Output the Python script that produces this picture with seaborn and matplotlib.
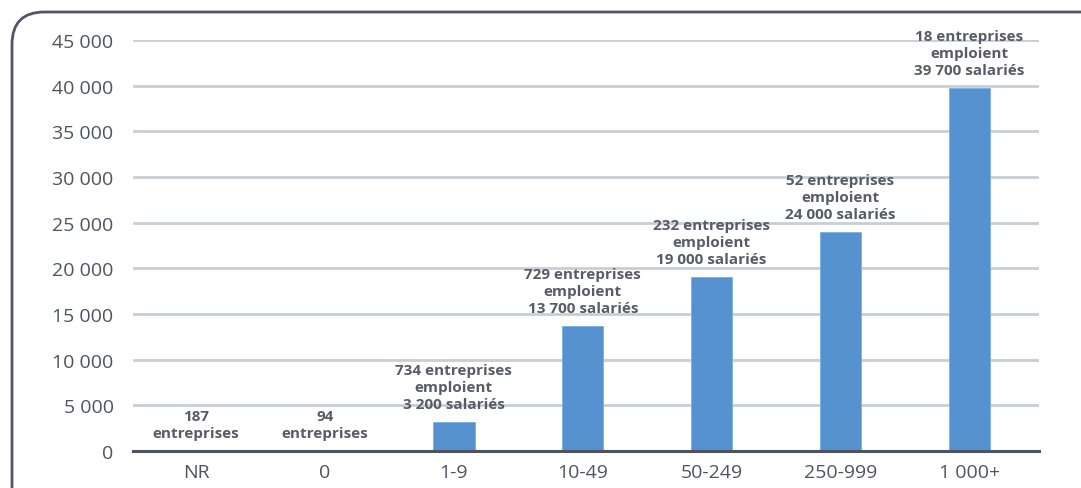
import matplotlib
matplotlib.use("Agg")
import matplotlib.pyplot as plt
from matplotlib.patches import FancyBboxPatch
from matplotlib.ticker import FuncFormatter
import seaborn as sns
import pandas as pd

# Number of employees by company size class
categories = ["NR", "0", "1-9", "10-49", "50-249", "250-999", "1 000+"]
salaries = [0, 0, 3200, 13700, 19000, 24000, 39700]
annotations = [
    "187\nentreprises",
    "94\nentreprises",
    "734 entreprises\nemploient\n3 200 salariés",
    "729 entreprises\nemploient\n13 700 salariés",
    "232 entreprises\nemploient\n19 000 salariés",
    "52 entreprises\nemploient\n24 000 salariés",
    "18 entreprises\nemploient\n39 700 salariés",
]
y_ticks = list(range(0, 45001, 5000))

sns.set_theme(style="white")
plt.rcParams["font.family"] = ["Open Sans", "DejaVu Sans"]

BAR = "#5592cf"
TEXT = "#4e5460"
LABEL = "#575c66"
GRID = "#c9ced6"
AXIS = "#4d5361"

df = pd.DataFrame({"taille": categories, "salaries": salaries})

fig = plt.figure(figsize=(10.81, 4.89), dpi=100)
fig.patch.set_facecolor("white")

# Rounded frame, open towards the right and bottom edges
frame = FancyBboxPatch((12 / 1081, (489 - 13) / 489 - 1.2), 1.2, 1.2,
                       boxstyle="round,pad=0,rounding_size=0.03",
                       transform=fig.transFigure, facecolor="none",
                       edgecolor="#4f5666", linewidth=2, zorder=0,
                       mutation_aspect=1081 / 489)
fig.patches.append(frame)

ax = fig.add_axes([133 / 1081, 37 / 489, (1039 - 133) / 1081, (452 - 41) / 489])
ax.set_facecolor("none")

sns.barplot(data=df, x="taille", y="salaries", order=categories, color=BAR,
            saturation=1, width=0.32, ax=ax, edgecolor="#7aaee0",
            linewidth=0.6, zorder=3)

ax.set_ylim(0, 45000)
ax.set_xlim(-0.49, 6.54)
ax.set_yticks(y_ticks)
ax.yaxis.set_major_formatter(FuncFormatter(lambda v, _: f"{v:,.0f}".replace(",", " ")))
ax.grid(axis="y", color=GRID, linewidth=2, zorder=0)
ax.set_axisbelow(True)

for s in ["top", "right", "left"]:
    ax.spines[s].set_visible(False)
ax.spines["bottom"].set_color(AXIS)
ax.spines["bottom"].set_linewidth(2.2)
ax.spines["bottom"].set_zorder(4)

ax.tick_params(axis="y", length=0, pad=14, labelsize=14, labelcolor=TEXT)
ax.tick_params(axis="x", length=0, pad=9, labelsize=14, labelcolor=TEXT)
ax.set_xlabel("")
ax.set_ylabel("")

for i, (v, txt) in enumerate(zip(salaries, annotations)):
    ax.annotate(txt, xy=(i, v), xytext=(0, 8), textcoords="offset points",
                ha="center", va="bottom", fontsize=11, fontweight="bold",
                color=LABEL, linespacing=1.28, zorder=5)

fig.savefig("out.png", dpi=100, facecolor="white")
